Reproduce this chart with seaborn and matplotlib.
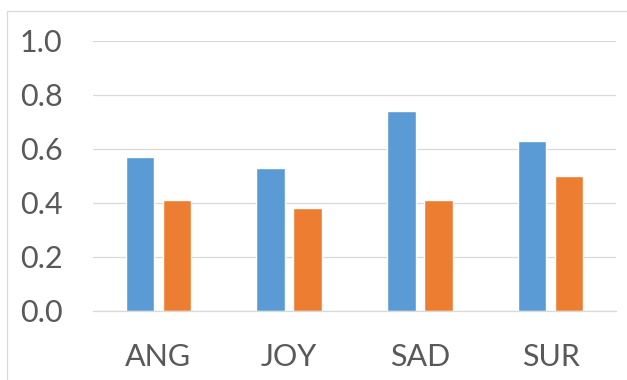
import matplotlib
matplotlib.use("Agg")
import matplotlib.pyplot as plt
from matplotlib.patches import Rectangle
import seaborn as sns
import pandas as pd

categories = ["ANG", "JOY", "SAD", "SUR"]
series_1 = [0.57, 0.53, 0.74, 0.63]
series_2 = [0.41, 0.38, 0.41, 0.50]
series_names = ["Series 1", "Series 2"]
y_ticks = [0.0, 0.2, 0.4, 0.6, 0.8, 1.0]
y_tick_labels = ["0.0", "0.2", "0.4", "0.6", "0.8", "1.0"]

df = pd.DataFrame({
    "category": categories * 2,
    "value": series_1 + series_2,
    "series": [series_names[0]] * len(categories) + [series_names[1]] * len(categories),
})

sns.set_theme(style="white")
plt.rcParams["font.family"] = ["Lato", "DejaVu Sans"]

W, H = 627, 380
fig = plt.figure(figsize=(W / 100, H / 100), dpi=100)
ax = fig.add_axes([93 / W, (H - 311) / H, (616 - 93) / W, (311 - 40.7) / H])

sns.barplot(data=df, x="category", y="value", hue="series",
            palette=["#5B9BD5", "#ED7D31"], width=0.564, gap=0.227,
            legend=False, ax=ax, saturation=1)

ax.set_ylim(0, 1.0)
ax.set_xlim(-0.5, 3.5)
ax.set_yticks(y_ticks)
ax.set_yticklabels(y_tick_labels)
ax.set_xlabel("")
ax.set_ylabel("")
ax.yaxis.grid(True, color="#d9d9d9", linewidth=0.9)
ax.set_axisbelow(True)
for s in ["left", "right", "top"]:
    ax.spines[s].set_visible(False)
ax.spines["bottom"].set_color("#d9d9d9")
ax.spines["bottom"].set_linewidth(0.9)
ax.tick_params(axis="y", length=0, pad=22, labelsize=22, labelcolor="#595959")
ax.tick_params(axis="x", length=0, pad=23, labelsize=22, labelcolor="#595959")

fig.patches.append(Rectangle((7 / W, -0.2), 2.0, 1.2 - 10.7 / H + 0.0,
                             transform=fig.transFigure, fill=False,
                             edgecolor="#d9d9d9", linewidth=0.9, zorder=0))

fig.savefig("out.png", dpi=100)
